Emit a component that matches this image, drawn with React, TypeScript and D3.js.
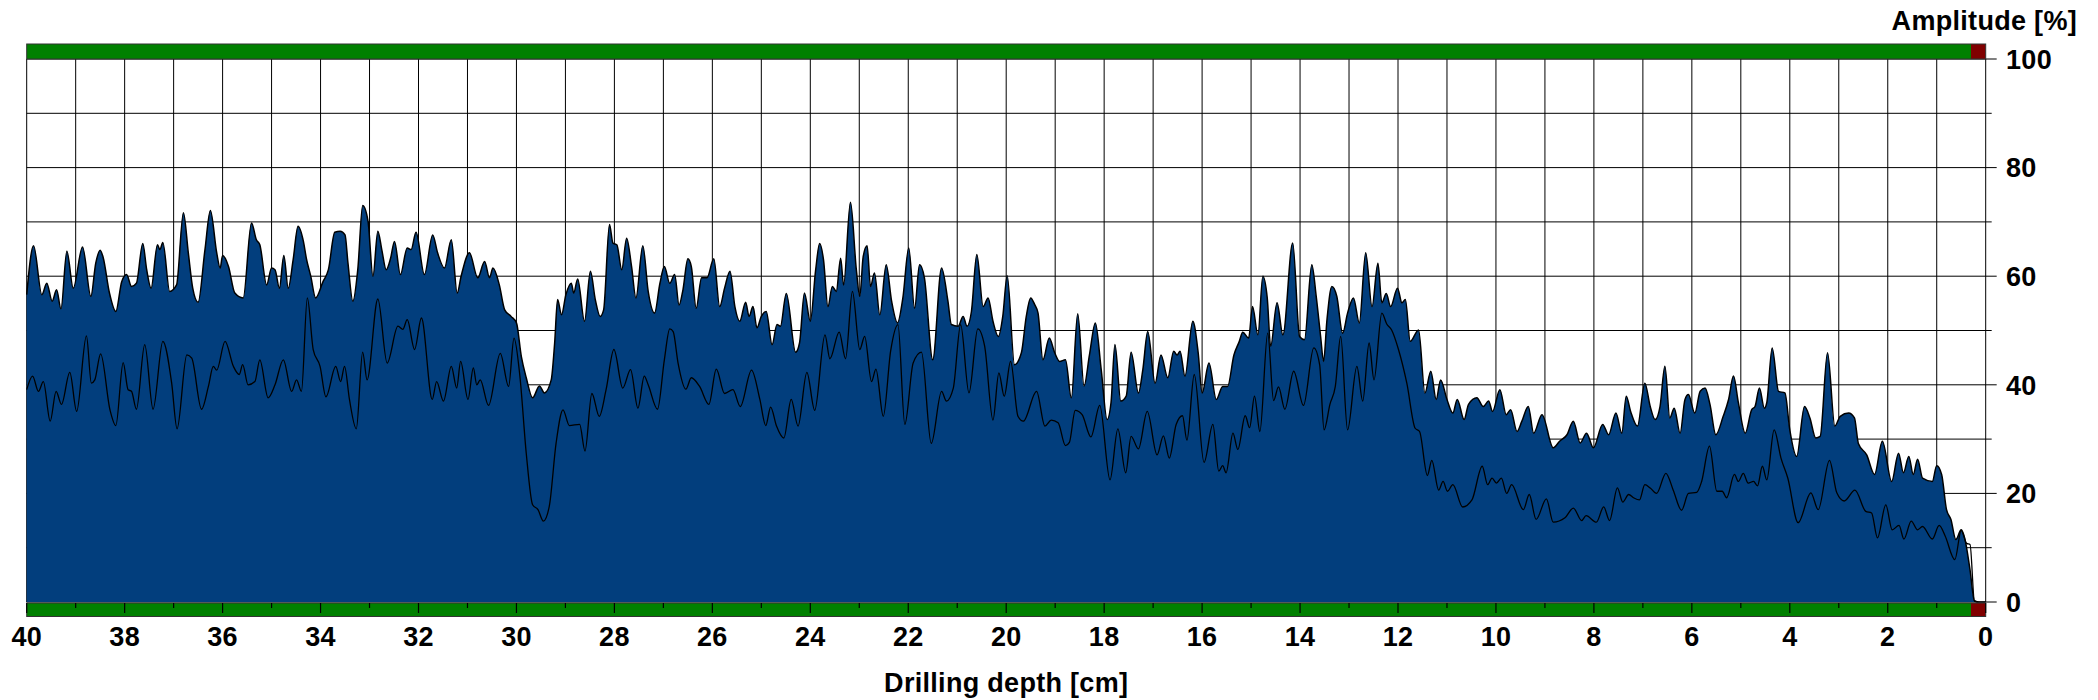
import React, { useRef, useEffect } from "react";
import * as d3 from "d3";

// amplitude profile (depth cm, amplitude %) - filled area
const amplitudeCurve: [number, number][] = [
  [40.0, 56.6], [39.86, 65.6], [39.69, 56.6], [39.59, 58.7], [39.48, 55.4], [39.39, 57.5], [39.3, 54], [39.18, 64.6],
  [39.05, 57.8], [38.86, 65.4], [38.69, 56.3], [38.59, 62.4], [38.5, 64.8], [38.44, 63.5], [38.31, 56.9], [38.18, 53.5],
  [38.06, 59], [37.96, 60.3], [37.86, 58.1], [37.76, 58.7], [37.63, 66], [37.55, 61.2], [37.46, 57.8], [37.33, 65.8],
  [37.28, 64.9], [37.22, 66.2], [37.08, 57.2], [36.94, 58.4], [36.8, 71.7], [36.7, 64.3], [36.61, 57.8], [36.5, 55.2],
  [36.36, 64.9], [36.25, 72.1], [36.12, 64.3], [36.05, 61.5], [36.0, 63.8], [35.88, 61.8], [35.75, 56.9], [35.58, 56],
  [35.41, 69.8], [35.31, 66.7], [35.24, 65.8], [35.1, 58.4], [35.0, 61.5], [34.93, 61.2], [34.84, 57.8], [34.75, 63.8],
  [34.66, 57.8], [34.56, 63], [34.46, 69.2], [34.35, 66.4], [34.29, 63.3], [34.2, 60], [34.1, 56], [33.95, 59],
  [33.84, 61.2], [33.71, 68.1], [33.6, 68.3], [33.5, 67.6],
  [33.44, 62.4], [33.34, 55.4], [33.24, 61.2], [33.14, 73], [33.03, 70.1], [32.93, 60], [32.83, 68.3], [32.75, 64.9],
  [32.66, 61.2], [32.57, 63.3], [32.49, 66.4], [32.37, 60.3], [32.23, 65.2], [32.15, 64.9], [32.05, 68.1], [31.88, 60.3],
  [31.71, 67.6], [31.61, 64.3], [31.47, 61.5], [31.33, 66.7], [31.21, 56.9], [31.13, 60], [30.96, 64.3], [30.79, 59.7],
  [30.65, 62.7], [30.55, 59.7], [30.48, 61.5], [30.35, 58.4], [30.24, 53.8], [30.11, 52.6], [30.0, 51.4], [29.9, 45.2],
  [29.8, 41.3], [29.67, 37.6], [29.53, 39.8], [29.43, 38.5], [29.29, 40.9], [29.22, 47.7], [29.16, 55.7], [29.08, 52.9],
  [28.99, 56.6], [28.88, 58.7], [28.83, 56.9], [28.75, 59.5], [28.61, 51.7], [28.49, 60.9], [28.39, 55.7], [28.29, 52.6],
  [28.22, 53.8], [28.1, 69.5], [28.03, 66.1], [27.95, 65.8], [27.85, 61.2], [27.75, 67], [27.65, 61.8], [27.56, 56],
  [27.42, 65.6], [27.31, 57.2], [27.18, 53.2], [27.07, 58.7], [26.98, 61.8],
  [26.87, 58.7], [26.77, 60.3], [26.68, 54.7], [26.6, 57.5], [26.5, 63.2], [26.43, 61.8], [26.33, 54.1], [26.22, 59.7],
  [26.11, 59.7], [25.97, 63.2], [25.85, 54.4], [25.75, 57.8], [25.64, 60.9], [25.54, 54.4], [25.44, 51.7], [25.32, 55.2],
  [25.25, 52.6], [25.17, 54.4], [25.09, 50.5], [25.0, 52.6], [24.9, 53.5], [24.78, 47.4], [24.68, 51.1], [24.61, 50.8],
  [24.49, 56.8], [24.3, 46], [24.22, 47.7], [24.12, 56.9], [24.0, 51.7], [23.89, 61.2], [23.81, 66], [23.73, 63],
  [23.64, 54.4], [23.55, 58.1], [23.47, 57.2], [23.38, 63.3], [23.32, 58.4], [23.18, 73.6], [23.06, 61.2], [22.99, 56.3],
  [22.92, 63.6], [22.84, 65.6], [22.77, 58.1], [22.69, 60.6], [22.58, 52.9], [22.45, 62.1], [22.34, 55.4], [22.22, 51.4],
  [22.11, 56], [21.99, 65.2], [21.87, 54.1], [21.77, 62.1], [21.67, 59.7], [21.5, 44.6], [21.32, 61.5], [21.19, 55.4],
  [21.12, 51.1], [20.98, 50.8], [20.88, 52.6], [20.8, 50.8], [20.71, 53.5], [20.6, 64], [20.47, 54.4], [20.37, 56],
  [20.27, 51.7],
  [20.16, 48.9], [20.07, 52.6], [19.98, 60.1], [19.83, 43.7], [19.69, 45.9], [19.59, 52.6], [19.5, 56], [19.42, 54.8],
  [19.35, 53.2], [19.25, 44.6], [19.12, 48.6], [19.01, 45.9], [18.91, 44.3], [18.79, 44.6], [18.67, 37.6], [18.54, 53.1],
  [18.41, 39.8], [18.3, 45.5], [18.18, 51.4], [18.06, 42.8], [17.94, 33.6], [17.86, 36.7], [17.78, 47.4], [17.66, 37],
  [17.55, 37.9], [17.45, 46], [17.3, 38.5], [17.21, 42.8], [17.11, 49.8], [16.96, 40.3], [16.84, 45.5], [16.7, 41.3],
  [16.58, 46.2], [16.51, 45.5], [16.45, 46.2], [16.35, 41.6], [16.19, 51.7], [16.08, 45.9], [16.0, 38.5], [15.86, 44],
  [15.71, 37.3], [15.58, 39.7], [15.48, 39.7], [15.35, 45.5], [15.24, 48], [15.17, 49.7], [15.05, 48.6], [14.97, 54.4],
  [14.86, 49.2], [14.76, 60], [14.67, 56], [14.6, 47.1], [14.47, 55.1], [14.35, 49.2], [14.15, 66.1], [14.01, 48.9],
  [13.91, 48.3], [13.76, 62.1], [13.67, 56.3], [13.58, 48.9],
  [13.52, 44.3], [13.45, 52], [13.35, 58.1], [13.25, 56.3], [13.13, 49.5], [13.03, 53.2], [12.91, 56], [12.79, 51.4],
  [12.66, 64.3], [12.53, 54.4], [12.41, 62.4], [12.33, 55.1], [12.24, 56.8], [12.15, 54.4], [12.01, 57.8], [11.92, 55.1],
  [11.85, 55.7], [11.75, 48], [11.58, 50.1], [11.45, 38.5], [11.33, 42.5], [11.22, 37.3], [11.13, 40.9], [11.0, 37.3],
  [10.88, 34.8], [10.79, 37.3], [10.65, 33.6], [10.56, 36.4], [10.39, 37.6], [10.26, 36], [10.15, 37], [10.07, 35.1],
  [9.92, 39.1], [9.79, 34.5], [9.7, 35.4], [9.57, 31.4], [9.47, 33.3], [9.34, 36], [9.23, 31.1], [9.06, 34.5],
  [8.83, 28.4], [8.7, 29.6], [8.55, 30.8], [8.42, 33.3], [8.28, 29.3], [8.15, 31.1], [8.01, 28.4], [7.82, 32.7],
  [7.7, 30.8], [7.55, 34.8], [7.43, 31.1], [7.34, 37.9], [7.25, 35.1], [7.11, 32.4],
  [6.96, 40.3], [6.85, 36], [6.75, 33.6], [6.65, 36], [6.55, 43.4], [6.45, 33.9], [6.36, 35.7], [6.24, 31.1],
  [6.14, 37.3], [6.07, 38.2], [5.94, 34.8], [5.83, 38.8], [5.73, 39.4], [5.63, 36.4], [5.51, 30.8], [5.36, 34.2],
  [5.25, 37.3], [5.15, 41.6], [5.05, 36.7], [4.91, 31.1], [4.78, 35.4], [4.71, 36], [4.62, 39.4], [4.52, 35.7],
  [4.47, 36.7], [4.36, 46.8], [4.23, 38.8], [4.1, 38.5], [4.0, 31.7], [3.86, 26.8], [3.7, 36], [3.59, 33.9],
  [3.47, 30.2], [3.38, 30.5], [3.23, 45.9], [3.08, 32.4], [2.97, 34.2], [2.8, 34.8], [2.68, 33.9], [2.6, 29.2],
  [2.43, 27.1], [2.27, 23.5], [2.11, 29.6], [1.92, 22.2], [1.78, 27.4], [1.68, 23.8], [1.57, 26.8], [1.48, 23.5],
  [1.39, 26.3], [1.29, 22.8], [1.09, 22.2], [1.0, 25.1], [0.9, 23.5], [0.8, 17], [0.71, 15.2], [0.61, 11.5],
  [0.5, 13.3], [0.43, 11.8], [0.32, 5.9], [0.23, 0.2], [0.15, 0], [0, 0],
];

// feed curve (depth cm, %) - black line
const feedCurve: [number, number][] = [
  [40, 39.1], [39.88, 41.6], [39.76, 38.8], [39.66, 40.6], [39.52, 33.3], [39.4, 38.8], [39.29, 36.4], [39.12, 42.3],
  [38.98, 35.1], [38.78, 49], [38.68, 40.3], [38.61, 40.9], [38.49, 45.7], [38.3, 35.4], [38.18, 32.5], [38.03, 44.1],
  [37.93, 39.1], [37.86, 38.8], [37.76, 35.5], [37.59, 47.4], [37.42, 35.5], [37.22, 48], [37.04, 40.3], [36.93, 31.9],
  [36.73, 45.5], [36.63, 44.9], [36.43, 35.5], [36.29, 39.7], [36.19, 43.4], [36.12, 42.7], [35.95, 48], [35.78, 43.4],
  [35.66, 41.9], [35.59, 43.7], [35.48, 40], [35.34, 40.6], [35.24, 44.6], [35.07, 37.6], [34.93, 40], [34.76, 44.6],
  [34.59, 38.8], [34.49, 40.9], [34.39, 38.8], [34.27, 56], [34.15, 46.5], [34.01, 43.4], [33.89, 37.8], [33.69, 43.4],
  [33.59, 40.6],
  [33.51, 43.4], [33.41, 37.3], [33.27, 31.9], [33.14, 46], [33.05, 40.9], [32.83, 55.8], [32.64, 44], [32.42, 50.8],
  [32.32, 50.2], [32.23, 52], [32.08, 46.5], [31.94, 52.3], [31.72, 37.3], [31.63, 40.6], [31.49, 37], [31.33, 43.4],
  [31.22, 39.4], [31.14, 44.3], [30.99, 37.3], [30.88, 43.1], [30.81, 40], [30.74, 40.9], [30.57, 36.2], [30.33, 45.8],
  [30.16, 39.7], [30.05, 48.6], [29.93, 41.6], [29.8, 27.4], [29.67, 17.9], [29.56, 17], [29.45, 14.9], [29.33, 17.6],
  [29.19, 29.3], [29.05, 35.4], [28.92, 32.5], [28.71, 32.7], [28.6, 27.8], [28.46, 38.4], [28.31, 34.2], [28.17, 39.1],
  [28.01, 46.5], [27.83, 39.4], [27.67, 42.8], [27.52, 35.7], [27.39, 41.6], [27.31, 40], [27.12, 35.5], [26.98, 44.6],
  [26.87, 50.3], [26.8, 49.8], [26.7, 44], [26.54, 39.2], [26.43, 41.3], [26.26, 39.7], [26.07, 36.4], [25.92, 42.9],
  [25.75, 38.4], [25.58, 39.1], [25.43, 36], [25.2, 42.7], [25.03, 37.3], [24.91, 32.5], [24.81, 35.9], [24.69, 32.4],
  [24.54, 30.2], [24.39, 37.3], [24.25, 32.4], [24.07, 42.3], [23.91, 35.3], [23.7, 49.2], [23.6, 44.8], [23.41, 49.7],
  [23.28, 44.8], [23.14, 57.2], [22.99, 46.5], [22.89, 48.9], [22.75, 40.6], [22.66, 42.9], [22.51, 34.2], [22.36, 46.2],
  [22.21, 51.1], [22.07, 32.7], [21.9, 44], [21.73, 46], [21.53, 29.2], [21.32, 38.8], [21.22, 37], [21.08, 39.4],
  [20.93, 51.1], [20.76, 38.5], [20.58, 50.3], [20.44, 47.1], [20.27, 33.5],
  [20.15, 42.2], [20.04, 37.9], [19.91, 44.3], [19.76, 34.2], [19.65, 33.3], [19.38, 38.8], [19.21, 32.4], [19.08, 33.5],
  [18.94, 33], [18.79, 28.8], [18.71, 29.4], [18.59, 35.3], [18.45, 34.5], [18.27, 30.4], [18.09, 36.2], [17.88, 22.5],
  [17.72, 31.9], [17.56, 23.8], [17.45, 30.5], [17.3, 28.2], [17.12, 35.1], [16.92, 27.1], [16.79, 30.6], [16.67, 26.5],
  [16.53, 32.7], [16.4, 34.3], [16.31, 29.8], [16.16, 41.9], [15.96, 25.7], [15.78, 32.7], [15.66, 24.1], [15.58, 25.1],
  [15.51, 23.8], [15.37, 31.1], [15.27, 28.1], [15.12, 34.3], [15.03, 32.1], [14.93, 37.9], [14.82, 31.4], [14.66, 49.5],
  [14.54, 37.1], [14.44, 39.6], [14.31, 35.5], [14.13, 42.5], [13.93, 36.2], [13.72, 46.8], [13.6, 43.7],
  [13.51, 31.7], [13.39, 36.4], [13.28, 39.7], [13.17, 48.9], [13.03, 31.7], [12.84, 43.4], [12.72, 37], [12.59, 47.7],
  [12.49, 40.9], [12.33, 53.2], [12.23, 51.2], [12.13, 50.1], [11.99, 46.5], [11.82, 40.3], [11.65, 32], [11.56, 31.4],
  [11.4, 23.3], [11.31, 26.1], [11.17, 20.6], [11.08, 22.2], [10.99, 20.4], [10.88, 21.6], [10.68, 17.5], [10.49, 18.8],
  [10.28, 25], [10.17, 21.6], [10.08, 22.8], [9.99, 21.9], [9.89, 22.8], [9.78, 20], [9.68, 21.6], [9.44, 17],
  [9.32, 19.8], [9.18, 15.2], [8.97, 19], [8.83, 14.7], [8.59, 15.5], [8.42, 17.3], [8.25, 15], [8.16, 15.9],
  [7.95, 14.7], [7.8, 17.5], [7.68, 15], [7.52, 21], [7.41, 18.4], [7.29, 19.8], [7.19, 19.2], [7.07, 18.8],
  [6.96, 21.6], [6.85, 21], [6.72, 20], [6.53, 23.7], [6.38, 20.6], [6.21, 16.9], [6.07, 20], [5.9, 20.2],
  [5.8, 22.2], [5.64, 28.7], [5.49, 20.4], [5.38, 20.4], [5.29, 19.2], [5.13, 23.5], [5.05, 22.2], [4.95, 23.7],
  [4.85, 21.9], [4.74, 22.2], [4.66, 21.4], [4.56, 25], [4.47, 22.5], [4.32, 31.7], [4.18, 26.5], [4.04, 22.8],
  [3.83, 14.6], [3.57, 20.1], [3.42, 17], [3.19, 26.1], [3.04, 20.1], [2.89, 18.6], [2.67, 20.6], [2.45, 16.7],
  [2.33, 16.4], [2.21, 11.8], [2.04, 17.9], [1.91, 13.3], [1.77, 14.1], [1.67, 11.6], [1.52, 14.9], [1.39, 13.3],
  [1.29, 13.9], [1.09, 11.6], [0.95, 14.1], [0.83, 12.2], [0.63, 7.8], [0.5, 13.2], [0.39, 10.8], [0.32, 10.6],
  [0.23, 0.2], [0.15, 0],
];

const depthTicks = d3.range(40, -1, -1); // every cm
const depthLabels = d3.range(40, -1, -2); // labelled every 2 cm
const amplitudeTicks = d3.range(0, 101, 10);
const amplitudeLabels = [0, 20, 40, 60, 80, 100];
// status bar segments (from depth, to depth, colour)
const statusSegments: [number, number, string][] = [
  [40, 0.3, "#008000"],
  [0.3, 0, "#800000"],
];

const WIDTH = 2098;
const HEIGHT = 700;
const FONT = "'Liberation Sans', Arial, Helvetica, sans-serif";

const App = () => {
  const svgRef = useRef<SVGSVGElement>(null);

  useEffect(() => {
    const svg = d3.select(svgRef.current);
    svg.selectAll("*").remove();

    const x = d3.scaleLinear().domain([40, 0]).range([26.7, 1985.7]);
    const y = d3.scaleLinear().domain([0, 100]).range([602, 59]);

    // grid
    const grid = svg.append("g");
    grid
      .selectAll("line.v")
      .data(depthTicks)
      .enter()
      .append("line")
      .attr("x1", (d) => x(d))
      .attr("x2", (d) => x(d))
      .attr("y1", y(100))
      .attr("y2", y(0))
      .attr("stroke", "#000")
      .attr("stroke-width", 1);
    grid
      .selectAll("line.h")
      .data(amplitudeTicks)
      .enter()
      .append("line")
      .attr("x1", x(40))
      .attr("x2", (d) => x(0) + (d % 20 === 0 ? 11 : 6))
      .attr("y1", (d) => y(d))
      .attr("y2", (d) => y(d))
      .attr("stroke", "#000")
      .attr("stroke-width", 1);

    // amplitude area
    const area = d3
      .area<[number, number]>()
      .x((d) => x(d[0]))
      .y0(y(0))
      .y1((d) => y(d[1]))
      .curve(d3.curveMonotoneX);
    svg
      .append("path")
      .datum(amplitudeCurve)
      .attr("d", area)
      .attr("fill", "#023e7d");
    const topLine = d3
      .line<[number, number]>()
      .x((d) => x(d[0]))
      .y((d) => y(d[1]))
      .curve(d3.curveMonotoneX);
    svg
      .append("path")
      .datum(amplitudeCurve)
      .attr("d", topLine)
      .attr("fill", "none")
      .attr("stroke", "#000")
      .attr("stroke-width", 1.5)
      .attr("stroke-linejoin", "round");

    // feed line
    const feedLine = d3
      .line<[number, number]>()
      .x((d) => x(d[0]))
      .y((d) => y(d[1]))
      .curve(d3.curveMonotoneX);
    svg
      .append("path")
      .datum(feedCurve)
      .attr("d", feedLine)
      .attr("fill", "none")
      .attr("stroke", "#000")
      .attr("stroke-width", 1.3);

    // status bars top and bottom
    const bars = [
      [44, 59],
      [603, 616.5],
    ];
    bars.forEach(([y0, y1]) => {
      svg
        .append("g")
        .selectAll("rect")
        .data(statusSegments)
        .enter()
        .append("rect")
        .attr("x", (d) => x(d[0]))
        .attr("width", (d) => x(d[1]) - x(d[0]))
        .attr("y", y0)
        .attr("height", y1 - y0)
        .attr("fill", (d) => d[2]);
      svg
        .append("rect")
        .attr("x", x(40))
        .attr("y", y0)
        .attr("width", x(0) - x(40))
        .attr("height", y1 - y0)
        .attr("fill", "none")
        .attr("stroke", "#333")
        .attr("stroke-width", 1);
    });

    // depth ticks inside bottom bar
    svg
      .append("g")
      .selectAll("line")
      .data(depthTicks)
      .enter()
      .append("line")
      .attr("x1", (d) => x(d))
      .attr("x2", (d) => x(d))
      .attr("y1", 603)
      .attr("y2", (d) => (d % 2 === 0 ? 613 : 608))
      .attr("stroke", "#000")
      .attr("stroke-width", 1.2);

    // labels
    svg
      .append("g")
      .selectAll("text")
      .data(depthLabels)
      .enter()
      .append("text")
      .attr("x", (d) => x(d))
      .attr("y", 645.7)
      .attr("text-anchor", "middle")
      .text((d) => d);
    svg
      .append("g")
      .selectAll("text")
      .data(amplitudeLabels)
      .enter()
      .append("text")
      .attr("x", 2006)
      .attr("y", (d) => y(d))
      .attr("dy", "0.36em")
      .text((d) => d);
    svg
      .append("text")
      .attr("x", 2077)
      .attr("y", 30)
      .attr("text-anchor", "end")
      .text("Amplitude [%]");
    svg
      .append("text")
      .attr("x", (x(40) + x(0)) / 2)
      .attr("y", 691.5)
      .attr("text-anchor", "middle")
      .text("Drilling depth [cm]");

    svg
      .selectAll("text")
      .attr("font-family", FONT)
      .attr("font-weight", "bold")
      .attr("font-size", 27)
      .attr("letter-spacing", 0.3)
      .attr("fill", "#000");
  }, []);

  return (
    <svg
      ref={svgRef}
      width={WIDTH}
      height={HEIGHT}
      style={{ position: "absolute", left: 0, top: 0, background: "#fff" }}
    />
  );
};

export default App;
